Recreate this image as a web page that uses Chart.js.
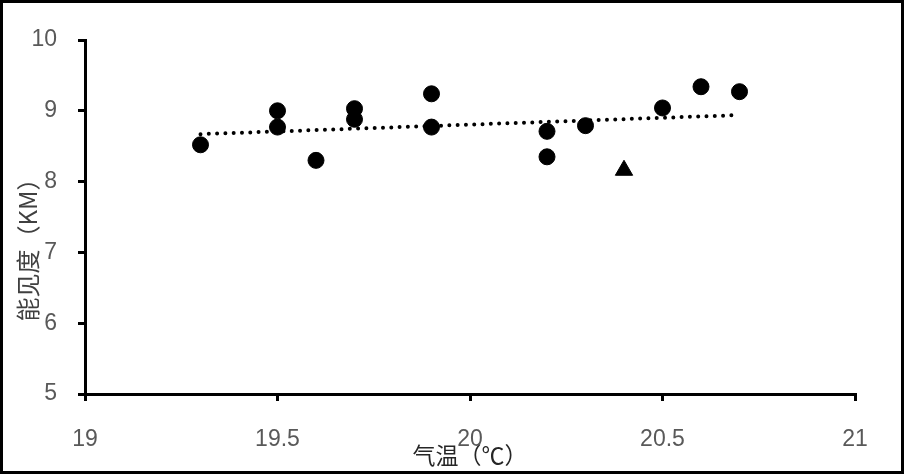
<!DOCTYPE html>
<html>
<head>
<meta charset="utf-8">
<script src="https://cdn.jsdelivr.net/npm/chart.js@4"></script>
<style>
  html, body { margin: 0; padding: 0; background: #fff; }
  #wrap { width: 904px; height: 474px; }
</style>
</head>
<body>
<div id="wrap"><canvas id="visibility_temp" width="904" height="474"></canvas></div>
<script>
// temperature (℃) vs visibility (km)
const temps = [19.3, 19.5, 19.5, 19.6, 19.7, 19.7, 19.9, 19.9, 20.2, 20.2, 20.3, 20.5, 20.6, 20.7];
const visibility = [8.52, 9.0, 8.77, 8.3, 9.03, 8.88, 9.24, 8.77, 8.71, 8.35, 8.79, 9.04, 9.34, 9.27];
const outlierTemp = [20.4];
const outlierVis = [8.16];
const trendTemp = [19.3, 20.7];
const trendVis = [8.67, 8.94];

const toPoints = (xs, ys) => xs.map((x, i) => ({ x: x, y: ys[i] }));

// white background + outer frame, y title placed a bit below centre like the original
const framePlugin = {
  id: 'frame',
  beforeDraw(chart) {
    const c = chart.ctx;
    c.save();
    c.fillStyle = '#fff';
    c.fillRect(0, 0, chart.width, chart.height);
    c.restore();
  },
  afterDraw(chart) {
    const c = chart.ctx;
    c.save();
    c.strokeStyle = '#000';
    c.lineWidth = 3;
    c.strokeRect(1.5, 1.5, chart.width - 3, chart.height - 3);
    c.translate(28, 244);
    c.rotate(-Math.PI / 2);
    c.fillStyle = '#404040';
    c.font = '24px "Noto Sans CJK SC"';
    c.textAlign = 'center';
    c.textBaseline = 'middle';
    c.fillText('能见度（KM）', 0, 0);
    c.restore();
  }
};

const ctx = document.getElementById('visibility_temp');

new Chart(ctx, {
  type: 'scatter',
  data: {
    datasets: [
      {
        label: 'visibility',
        data: toPoints(temps, visibility),
        pointStyle: 'circle',
        pointRadius: 8,
        backgroundColor: '#000',
        borderColor: '#000'
      },
      {
        label: 'outlier',
        data: toPoints(outlierTemp, outlierVis),
        pointStyle: 'triangle',
        pointRadius: 10,
        backgroundColor: '#000',
        borderColor: '#000'
      },
      {
        type: 'line',
        label: 'trend',
        data: toPoints(trendTemp, trendVis),
        showLine: true,
        pointRadius: 0,
        borderColor: '#000',
        borderWidth: 4,
        borderDash: [0, 8.3],
        borderCapStyle: 'round',
        fill: false
      }
    ]
  },
  options: {
    responsive: false,
    animation: false,
    layout: { padding: { left: 0, top: 40, right: 49, bottom: 0 } },
    plugins: {
      legend: { display: false },
      tooltip: { enabled: false }
    },
    scales: {
      x: {
        type: 'linear',
        min: 19,
        max: 21,
        ticks: {
          stepSize: 0.5,
          color: '#595959',
          font: { family: '"Liberation Sans"', size: 23 },
          padding: 25,
          callback: v => String(v)
        },
        grid: { drawOnChartArea: false, tickLength: 7, color: '#000', lineWidth: 3 },
        border: { color: '#000', width: 3 },
        title: {
          display: true,
          text: '气温（℃）',
          color: '#262626',
          font: { family: '"Noto Sans CJK SC"', size: 23 },
          padding: { top: 0, bottom: 5 }
        },
        afterFit: scale => { scale.height = 80; }
      },
      y: {
        min: 5,
        max: 10,
        ticks: {
          stepSize: 1,
          color: '#595959',
          font: { family: '"Liberation Sans"', size: 23 },
          padding: 21
        },
        grid: { drawOnChartArea: false, tickLength: 7, color: '#000', lineWidth: 3 },
        border: { color: '#000', width: 3 },
        afterFit: scale => { scale.width = 85; }
      }
    }
  },
  plugins: [framePlugin]
});
</script>
</body>
</html>
